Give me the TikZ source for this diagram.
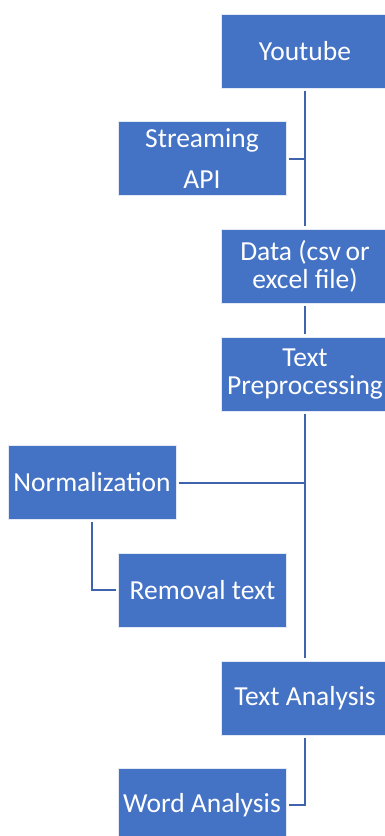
\documentclass[tikz,border=0pt]{standalone}
\usepackage{fontspec}
\setmainfont{Carlito}
\definecolor{boxblue}{HTML}{4472C4}
\definecolor{lineblue}{HTML}{3F63AC}
\begin{document}
\begin{tikzpicture}[x=1pt,y=-1pt,
  box/.style={rectangle,fill=boxblue,draw=white!85!boxblue,line width=0.8pt,
    minimum width=168pt,minimum height=74pt,inner sep=0pt,
    text=white,align=center,font=\fontsize{27.5}{28}\selectfont},
  conn/.style={draw=lineblue,line width=2pt},
  gapd/.style={shorten <=2.5pt,shorten >=2.5pt}]
\useasboundingbox (0,0) rectangle (384,836);
\fill[white] (0,0) rectangle (384,836);
\node[box] (yt) at (305,51) {Youtube};
\node[box,font=\fontsize{27.5}{41}\selectfont] (api) at (202,158.5) {Streaming\\API};
\node[box] (data) at (305,266) {Data (csv\,or\\excel file)};
\node[box] (pre) at (305,374) {Text\\Preprocessing};
\node[box] (norm) at (92,482.5) {Normalization};
\node[box] (rem) at (202.5,590) {Removal text};
\node[box] (ta) at (305,698) {Text Analysis};
\node[box] (wa) at (202,805) {Word Analysis};
\coordinate (j1) at (yt.south |- api.east);
\coordinate (j2) at (pre.south |- norm.east);
\coordinate (j3) at (norm.south |- rem.west);
\coordinate (j4) at (ta.south |- wa.east);
\draw[conn,gapd] (yt.south) -- (data.north);
\draw[conn,shorten <=2.5pt] (api.east) -- (j1);
\draw[conn,gapd] (data.south) -- (pre.north);
\draw[conn,gapd] (pre.south) -- (ta.north);
\draw[conn,shorten <=2.5pt] (norm.east) -- (j2);
\draw[conn,gapd] (norm.south) -- (j3) -- (rem.west);
\draw[conn,gapd] (ta.south) -- (j4) -- (wa.east);
\end{tikzpicture}
\end{document}
